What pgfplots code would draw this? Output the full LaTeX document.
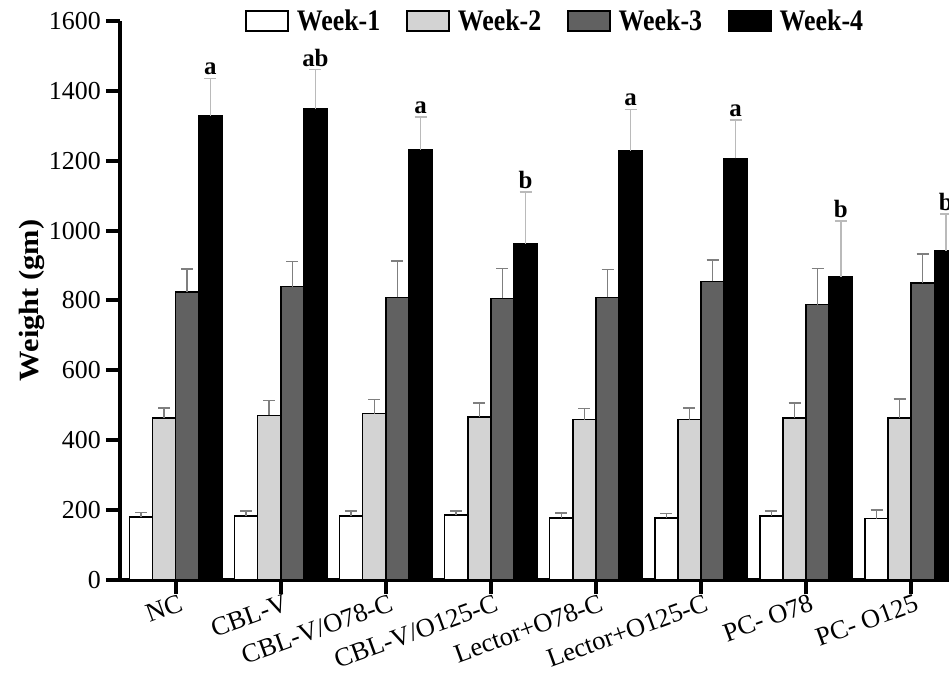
\documentclass[border=0pt]{standalone}
\usepackage{graphicx}
\usepackage{pgfplots}
\usepackage{pgfplotstable}
\pgfplotsset{compat=1.18}
\usepackage{fontspec}
\setmainfont{Liberation Serif}
\definecolor{lg}{HTML}{D3D3D3}
\definecolor{dg}{HTML}{616161}
\definecolor{eb}{HTML}{7F7F7F}

\pgfplotstableread{
x w1 e1 w2 e2 w3 e3 w4 e4
0 180 13 463 30 824 66 1328 108
1 183 14 471 43 840 72 1348 113
2 183 14 476 40 809 104 1232 93
3 186 11 466 40 806 86 963 148
4 177 15 459 32 809 80 1228 119
5 177 14 459 34 855 61 1207 109
6 183 14 463 44 788 103 868 159
7 176 24 463 55 850 83 942 106
}\data

\pgfplotstableread{
x y lab
0.33 1436 a
1.33 1461 ab
2.33 1325 a
3.33 1111 b
4.33 1347 a
5.33 1316 a
6.33 1027 b
7.33 1048 b
}\labs

\pgfplotsset{
  mybar/.style={ybar, bar width=0.22, bar shift=0, draw=black, line width=1.5bp,
    error bars/.cd, y dir=plus, y explicit, error bar style={line width=1.5bp, #1},
    error mark options={rotate=90, mark size=6bp, line width=1.5bp, #1}},
}
\newcommand{\lt}[1]{\scalebox{1}[1.15]{#1}}

\begin{document}
\begin{tikzpicture}
\begin{axis}[
  name=ax, scale only axis, width=829bp, height=559bp,
  xmin=-0.53, xmax=7.36, ymin=0, ymax=1600,
  axis lines=left, axis line style={-, line width=4.5bp},
  ytick={0,200,...,1600}, xtick={0,...,7},
  xticklabels={NC, CBL-V, CBL-V/O78-C, CBL-V/O125-C, Lector+O78-C, Lector+O125-C, PC- O78, PC- O125},
  tick align=outside, major tick length=14bp,
  tick style={line width=4bp, black},
  /pgf/number format/assume math mode=true,
  /pgf/number format/1000 sep={},
  yticklabel style={font=\fontsize{26}{28}\selectfont, inner sep=1bp, xshift=-4bp},
  xticklabel style={font=\fontsize{26.5}{30}\selectfont, rotate=20, anchor=north east, xshift=6bp, yshift=3bp},
  ylabel={\scalebox{1.09}[1]{Weight (gm)}},
  ylabel style={font=\bfseries\fontsize{28}{30}\selectfont, at={(axis description cs:-0.106,0.5)}, anchor=center},
  legend style={at={(axis description cs:0.525,1.0)}, anchor=center, legend columns=4, draw=none, fill=none,
    font=\bfseries\fontsize{26}{28}\selectfont,
    /tikz/every odd column/.append style={column sep=6bp},
    /tikz/every even column/.append style={column sep=24bp}},
  legend image code/.code={\draw[#1, line width=1.5bp] (0bp,-10bp) rectangle (42bp,10bp);},
]
\addplot[fill=white, mybar=eb] table[x expr=\thisrow{x}-0.33, y=w1, y error=e1] {\data};
\addplot[fill=lg, mybar=eb] table[x expr=\thisrow{x}-0.11, y=w2, y error=e2] {\data};
\addplot[fill=dg, mybar=eb] table[x expr=\thisrow{x}+0.11, y=w3, y error=e3] {\data};
\addplot[fill=black, mybar=lg!70!eb] table[x expr=\thisrow{x}+0.33, y=w4, y error=e4] {\data};
\addplot[forget plot, draw=none, mark=none, nodes near coords, point meta=explicit symbolic,
  nodes near coords style={anchor=south, font=\bfseries\fontsize{25}{26}\selectfont, inner sep=3bp, text=black}]
  table[x=x, y=y, meta=lab] {\labs};
\legend{\lt{Week-1}, \lt{Week-2}, \lt{Week-3}, \lt{Week-4}}
\end{axis}
\pgfresetboundingbox
\path ([xshift=-120bp,yshift=-104bp]ax.south west) rectangle ([yshift=21bp]ax.north east);
\end{tikzpicture}
\end{document}
